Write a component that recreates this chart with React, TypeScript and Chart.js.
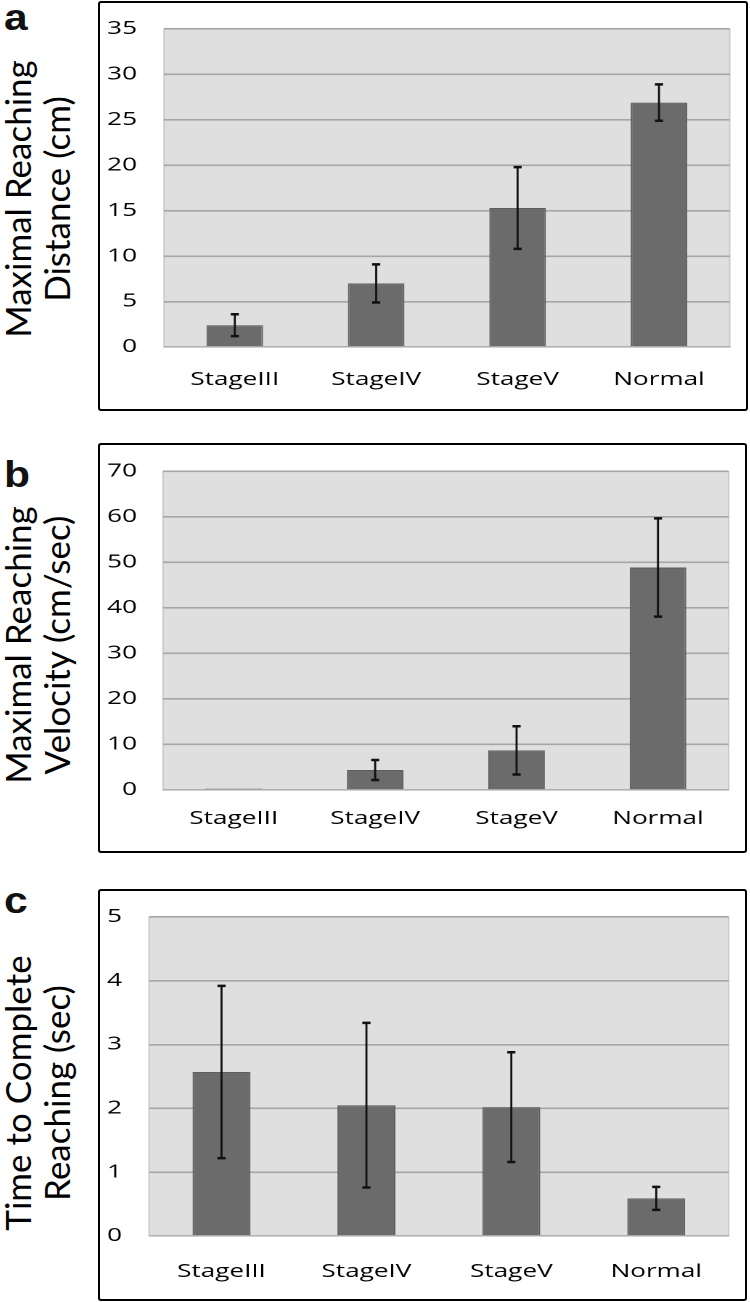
import React, { useEffect, useRef } from 'react';
import { Chart, registerables } from 'chart.js';

Chart.register(...registerables);

// ---------------- data ----------------
const categories = ['StageIII', 'StageIV', 'StageV', 'Normal'];

const distanceMeans = [2.4, 7.0, 15.3, 26.9];
const distanceErrors = [1.2, 2.1, 4.5, 2.0];
const distanceAxis = { max: 35, step: 5 };

const velocityMeans = [0.3, 4.4, 8.7, 48.9];
const velocityErrors = [0, 2.2, 5.3, 10.8];
const velocityAxis = { max: 70, step: 10 };

const timeMeans = [2.57, 2.05, 2.02, 0.59];
const timeErrors = [1.35, 1.29, 0.86, 0.18];
const timeAxis = { max: 5, step: 1 };

// horizontal stretch of the chart text (the original chart is widened)
const STRETCH = 1.45;
const TICK_FONT = { family: '"Open Sans"', size: 18 };

const errorBarPlugin = {
  id: 'errorBars',
  afterDatasetsDraw(chart: any, _args: any, opts: any) {
    const errs: number[] = opts.errors || [];
    const meta = chart.getDatasetMeta(0);
    const yScale = chart.scales.y;
    const ctx = chart.ctx;
    const values = chart.data.datasets[0].data as number[];
    ctx.save();
    ctx.strokeStyle = '#111';
    meta.data.forEach((bar: any, i: number) => {
      const e = errs[i];
      if (!e) return;
      const v = values[i];
      const top = yScale.getPixelForValue(v + e);
      const bot = yScale.getPixelForValue(v - e);
      const x = bar.x;
      ctx.lineWidth = 1.4;
      ctx.beginPath();
      ctx.moveTo(x, top);
      ctx.lineTo(x, bot);
      ctx.stroke();
      ctx.lineWidth = 2.5;
      const hw = 2.8;
      ctx.beginPath();
      ctx.moveTo(x - hw, top);
      ctx.lineTo(x + hw, top);
      ctx.moveTo(x - hw, bot);
      ctx.lineTo(x + hw, bot);
      ctx.stroke();
    });
    ctx.restore();
  },
};

const plotBgPlugin = {
  id: 'plotBg',
  beforeDraw(chart: any) {
    const { ctx, chartArea: a } = chart;
    ctx.save();
    ctx.fillStyle = '#dfdfdf';
    ctx.fillRect(a.left, a.top, a.right - a.left, a.bottom - a.top);
    ctx.strokeStyle = '#c9c9c9';
    ctx.lineWidth = 1;
    ctx.strokeRect(a.left, a.top, a.right - a.left, a.bottom - a.top);
    ctx.restore();
  },
};

type PanelProps = {
  box: { l: number; t: number; w: number; h: number };
  axisW: number;
  tickGap: number;
  padTop: number;
  padRight: number;
  plotBottom: number;
  xPad: number;
  means: number[];
  errors: number[];
  axis: { max: number; step: number };
  letter: string;
  letterTop: number;
  titleLines: string[];
  titleCy: number;
};

function Panel(p: PanelProps) {
  const canvasRef = useRef<HTMLCanvasElement | null>(null);
  const innerW = p.box.w - 4;
  const innerH = p.box.h - 4;
  const chartW = innerW / STRETCH;

  useEffect(() => {
    if (!canvasRef.current) return;
    const xAxisH = innerH - p.plotBottom;
    const chart = new Chart(canvasRef.current, {
      type: 'bar',
      data: {
        labels: categories,
        datasets: [
          {
            data: p.means,
            backgroundColor: '#6b6b6b',
            borderColor: '#5e5e5e',
            borderWidth: 1,
            barPercentage: 0.4,
            categoryPercentage: 1,
          },
        ],
      },
      options: {
        animation: false,
        responsive: true,
        maintainAspectRatio: false,
        devicePixelRatio: 2,
        layout: {
          padding: {
            top: p.padTop,
            right: p.padRight / STRETCH,
            bottom: 0,
            left: 0,
          },
        },
        plugins: {
          legend: { display: false },
          tooltip: { enabled: false },
          errorBars: { errors: p.errors },
        } as any,
        scales: {
          x: {
            grid: { display: false, drawTicks: false },
            border: { display: true, color: '#b8b8b8', width: 1 },
            ticks: { color: '#000', font: TICK_FONT, padding: p.xPad, maxRotation: 0 },
            afterFit: (scale: any) => {
              scale.height = xAxisH;
            },
          },
          y: {
            min: 0,
            max: p.axis.max,
            grid: { color: '#a6a6a6', lineWidth: 1.6, drawTicks: false },
            border: { display: false },
            ticks: {
              stepSize: p.axis.step,
              color: '#000',
              font: TICK_FONT,
              padding: p.tickGap / STRETCH,
            },
            afterFit: (scale: any) => {
              scale.width = p.axisW / STRETCH;
              scale.paddingTop = 0;
              scale.paddingBottom = 0;
            },
          },
        },
      },
      plugins: [plotBgPlugin, errorBarPlugin],
    });
    return () => chart.destroy();
  }, []);

  return (
    <>
      <div
        style={{
          position: 'absolute',
          left: 4,
          top: p.letterTop,
          font: 'bold 37px "Liberation Sans", Arial, sans-serif',
          lineHeight: 1,
          transform: 'scaleX(1.15)',
          transformOrigin: '0 0',
          color: '#111',
        }}
      >
        {p.letter}
      </div>
      <div
        style={{
          position: 'absolute',
          left: 37,
          top: p.titleCy,
          transform: 'translate(-50%, -50%) rotate(-90deg)',
          whiteSpace: 'nowrap',
          textAlign: 'center',
          fontFamily: 'Lato, sans-serif',
          fontSize: 35,
          lineHeight: '39px',
          color: '#000',
        }}
      >
        {p.titleLines.map((t, i) => (
          <div key={i}>{t}</div>
        ))}
      </div>
      <div
        style={{
          position: 'absolute',
          left: p.box.l,
          top: p.box.t,
          width: p.box.w,
          height: p.box.h,
          boxSizing: 'border-box',
          border: '2px solid #000',
          borderRadius: 3,
          background: '#fff',
          overflow: 'hidden',
        }}
      >
        <div
          style={{
            position: 'absolute',
            left: 0,
            top: 0,
            width: chartW,
            height: innerH,
            transform: `scaleX(${STRETCH})`,
            transformOrigin: '0 0',
          }}
        >
          <canvas ref={canvasRef} />
        </div>
      </div>
    </>
  );
}

export default function App() {
  return (
    <div
      style={{
        position: 'absolute',
        left: 0,
        top: 0,
        width: 750,
        height: 1302,
        background: '#fff',
        overflow: 'hidden',
      }}
    >
      <Panel
        box={{ l: 98, t: 1, w: 650, h: 410 }}
        axisW={64}
        tickGap={27}
        padTop={26}
        padRight={17}
        plotBottom={344}
        xPad={22}
        means={distanceMeans}
        errors={distanceErrors}
        axis={distanceAxis}
        letter="a"
        letterTop={-1}
        titleLines={['Maximal Reaching', 'Distance (cm)']}
        titleCy={199}
      />
      <Panel
        box={{ l: 98, t: 443, w: 649, h: 410 }}
        axisW={63}
        tickGap={26}
        padTop={26.5}
        padRight={17}
        plotBottom={345}
        xPad={18}
        means={velocityMeans}
        errors={velocityErrors}
        axis={velocityAxis}
        letter="b"
        letterTop={456}
        titleLines={['Maximal Reaching', 'Velocity (cm/sec)']}
        titleCy={645}
      />
      <Panel
        box={{ l: 98, t: 889, w: 649, h: 412 }}
        axisW={49}
        tickGap={27}
        padTop={26}
        padRight={17}
        plotBottom={345}
        xPad={25}
        means={timeMeans}
        errors={timeErrors}
        axis={timeAxis}
        letter="c"
        letterTop={882}
        titleLines={['Time to Complete', 'Reaching (sec)']}
        titleCy={1093}
      />
    </div>
  );
}
